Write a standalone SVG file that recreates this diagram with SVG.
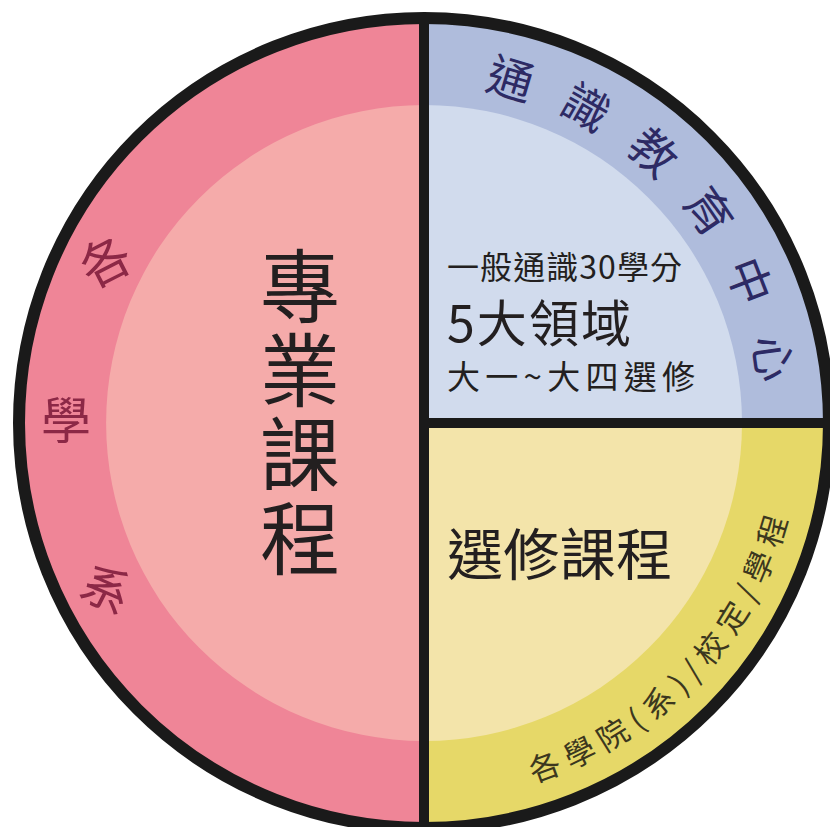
<svg xmlns="http://www.w3.org/2000/svg" width="830" height="827" viewBox="0 0 830 827">
<style>
text{font-family:"Noto Sans CJK TC","Noto Sans CJK SC",sans-serif}
.main{fill:#231f20}
.ringL{fill:#8c2846;font-size:50px}
.ringB{fill:#2d2a64;font-size:46px;letter-spacing:31px}
.ringY{fill:#3c371e;font-size:31px;letter-spacing:8px}
.div{stroke:#1a1a1a;stroke-width:10}
</style>
<defs>
<path id="arcBlue" d="M483.2,90.7 A337.5,337.5 0 0 1 756.4,481.6"/>
<path id="arcYellow" d="M533.9,782.6 A376,376 0 0 0 800,423"/>
</defs>
<rect width="830" height="827" fill="#ffffff"/>
<g id="major">
<path d="M424,18 A405,405 0 0 0 424,828 Z" fill="#ef8597"/>
<path d="M424,105 A318,318 0 0 0 424,741 Z" fill="#f5abaa"/>
<text class="ringL" x="91.4 41 76.1" y="289.3 439 593.6" rotate="-27 0 27">各學系</text>
<text class="main" x="300" font-size="80" text-anchor="middle"><tspan x="300" y="316">專</tspan><tspan x="300" y="400">業</tspan><tspan x="300" y="484">課</tspan><tspan x="300" y="568">程</tspan></text>
</g>
<g id="general">
<path d="M424,423 L424,18 A405,405 0 0 1 829,423 Z" fill="#afbcdc"/>
<path d="M424,423 L424,105 A318,318 0 0 1 742,423 Z" fill="#d1dbed"/>
<text class="ringB"><textPath href="#arcBlue">通識教育中心</textPath></text>
<text class="main" x="447" y="279" font-size="32" textLength="235" lengthAdjust="spacing">一般通識30學分</text>
<text class="main" x="447" y="342" font-size="50" textLength="184" lengthAdjust="spacing">5大領域</text>
<text class="main" x="447" y="389" font-size="33" textLength="248" lengthAdjust="spacing">大一~大四選修</text>
</g>
<g id="elective">
<path d="M424,423 L829,423 A405,405 0 0 1 424,828 Z" fill="#e6d868"/>
<path d="M424,423 L742,423 A318,318 0 0 1 424,741 Z" fill="#f3e4aa"/>
<text class="ringY"><textPath href="#arcYellow">各學院(系)/校定/學程</textPath></text>
<text class="main" x="447" y="575" font-size="56" textLength="225" lengthAdjust="spacing">選修課程</text>
</g>
<g id="connectors">
<circle cx="424" cy="423" r="405" fill="none" stroke="#1a1a1a" stroke-width="12"/>
<line class="div" x1="424" y1="18" x2="424" y2="828"/>
<line class="div" x1="424" y1="423" x2="829" y2="423"/>
</g>
</svg>
